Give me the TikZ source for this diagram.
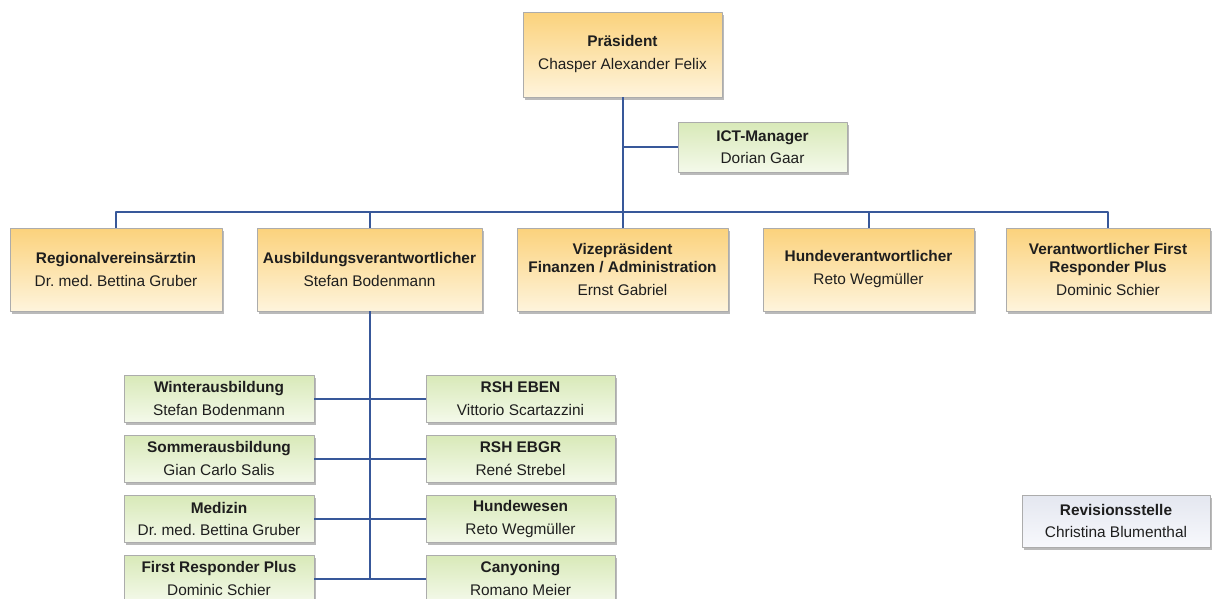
\documentclass[tikz,border=0pt]{standalone}
\usepackage{fontspec}
\setmainfont{Liberation Sans}
\frenchspacing
\usetikzlibrary{shadows}
\definecolor{orgtop}{HTML}{FBD27C}
\definecolor{orgbot}{HTML}{FEF4DC}
\definecolor{grntop}{HTML}{D8E9B8}
\definecolor{grnbot}{HTML}{F4F9EA}
\definecolor{revtop}{HTML}{E4E7F0}
\definecolor{revbot}{HTML}{F7F8FC}
\definecolor{strang}{HTML}{38589A}
\definecolor{schrift}{HTML}{1E1E1E}
\begin{document}
\begin{tikzpicture}[x=1pt,y=-1pt,line join=round,
		box/.style={draw=gray!65,line width=.6pt,align=center,inner sep=2pt,text=schrift,
			font=\fontsize{15.4}{17.5}\selectfont,
			drop shadow={shadow xshift=2pt,shadow yshift=-2.5pt,fill=black!45,opacity=.6}},
		chefbox/.style={box,top color=orgtop,bottom color=orgbot},
		stabbox/.style={box,top color=grntop,bottom color=grnbot},
		revbox/.style={box,top color=revtop,bottom color=revbot},
		strich/.style={draw=strang,line width=2pt}]
			\useasboundingbox (0,0) rectangle (1212,598);
			\clip (0,0) rectangle (1212,598);
			% Leitung
			\node[chefbox,minimum width=199pt,minimum height=85pt] (pres) at (622.5,54.5) {\textbf{Präsident}\\[5.5pt]Chasper Alexander Felix};
			\node[stabbox,minimum width=169pt,minimum height=50pt] (ict) at (762.5,147) {\textbf{ICT-Manager}\\[5pt]Dorian Gaar};
			% Ressorts
			\node[chefbox,minimum width=212pt,minimum height=83pt] (reg) at (116,269.5) {\textbf{Regionalvereinsärztin}\\[5.5pt]Dr. med. Bettina Gruber};
			\node[chefbox,minimum width=225pt,minimum height=83pt] (ausb) at (369.5,269.5) {\textbf{Ausbildungsverantwortlicher}\\[5.5pt]Stefan Bodenmann};
			\node[chefbox,minimum width=211pt,minimum height=83pt] (vize) at (622.5,269.5) {\textbf{Vizepräsident}\\\textbf{Finanzen / Administration}\\[5.5pt]Ernst Gabriel};
			\node[chefbox,minimum width=211pt,minimum height=83pt] (hunde) at (868.5,269.5) {\textbf{Hundeverantwortlicher}\\[5.5pt]Reto Wegmüller};
			\node[chefbox,minimum width=204pt,minimum height=83pt] (frp) at (1108,269.5) {\textbf{Verantwortlicher First}\\\textbf{Responder Plus}\\[5.5pt]Dominic Schier};
			% Ausbildung
			\foreach \i/\y/\ta/\na/\tb/\nb in {1/398.5/Winterausbildung/Stefan Bodenmann/RSH EBEN/Vittorio Scartazzini,
				2/458.5/Sommerausbildung/Gian Carlo Salis/RSH EBGR/René Strebel,
				3/519/Medizin/Dr. med. Bettina Gruber/Hundewesen/Reto Wegmüller,
				4/578.5/First Responder Plus/Dominic Schier/Canyoning/Romano Meier}{
				\node[stabbox,minimum width=190pt,minimum height=47pt] (links\i) at (219,\y) {\textbf{\ta}\\[5pt]\na};
				\node[stabbox,minimum width=189pt,minimum height=47pt] (rechts\i) at (520.5,\y) {\textbf{\tb}\\[5pt]\nb};
			}
			\node[revbox,minimum width=188pt,minimum height=52pt] (rev) at (1116,521) {\textbf{Revisionsstelle}\\[5pt]Christina Blumenthal};
			% Linien
			\draw[strich] (pres.south) -- (vize.north);
			\draw[strich] (ict.west) -- (ict.west -| pres.south);
			\draw[strich] (reg.north) -- ++(0,-16) -| (frp.north);
			\foreach \n in {ausb,hunde}\draw[strich] (\n.north) -- ++(0,-16);
			\draw[strich] (ausb.south) -- (ausb.south |- links4.east);
			\foreach \i in {1,...,4}\draw[strich] (links\i.east) -- (rechts\i.west);
		\end{tikzpicture}
\end{document}
